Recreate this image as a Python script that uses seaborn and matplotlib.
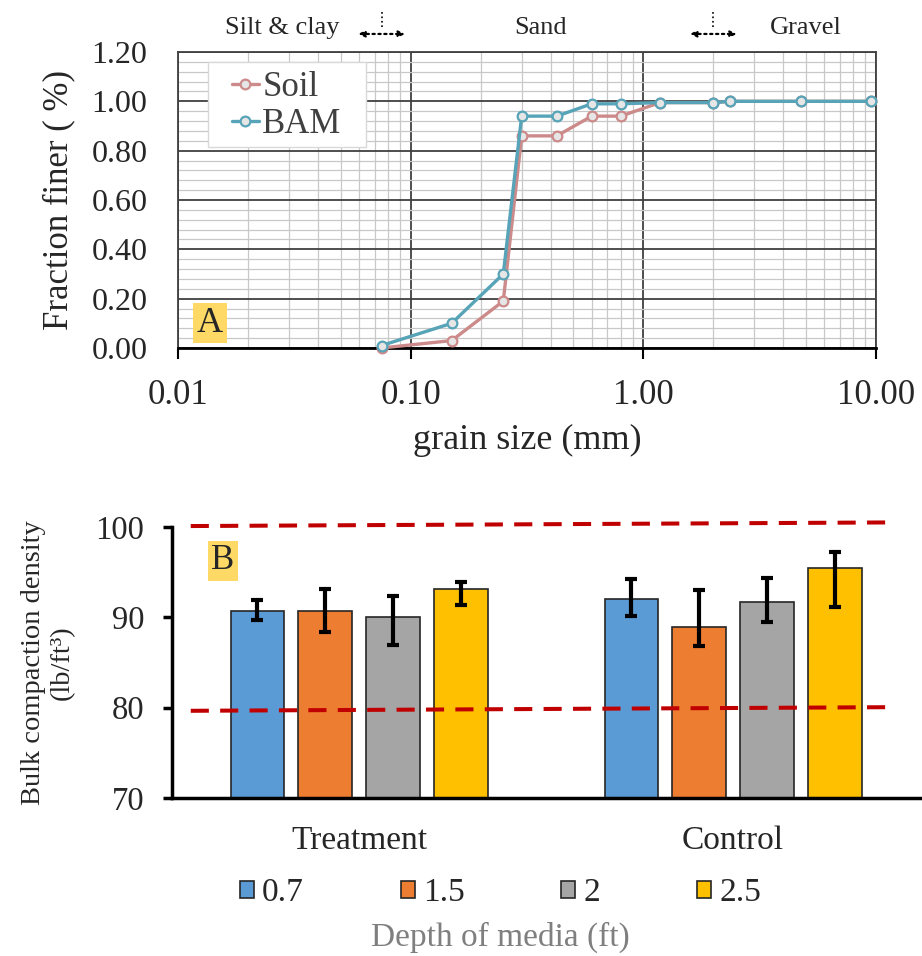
import matplotlib
matplotlib.use("Agg")
import matplotlib.pyplot as plt
import matplotlib.ticker as mticker
from matplotlib.patches import Rectangle
import pandas as pd
import seaborn as sns

# panel A - grain size distribution
grain_size = [0.075, 0.15, 0.25, 0.30, 0.425, 0.60, 0.80, 1.18, 2.0, 2.36, 4.75, 9.5]
soil_finer = [0.00, 0.03, 0.19, 0.86, 0.86, 0.94, 0.94, 0.995, 0.995, 1.0, 1.0, 1.0]
bam_finer = [0.01, 0.10, 0.30, 0.94, 0.94, 0.99, 0.99, 0.995, 0.995, 1.0, 1.0, 1.0]
size_classes = ["Silt & clay", "Sand", "Gravel"]
class_label_x = [0.028, 0.36, 5.0]
class_bounds = [0.075, 2.0]

# panel B - bulk compaction density
groups = ["Treatment", "Control"]
depths = ["0.7", "1.5", "2", "2.5"]
density_treatment = [90.7, 90.7, 90.05, 93.1]
density_control = [92.05, 88.95, 91.7, 95.5]
err_low_treatment = [89.7, 88.4, 86.9, 91.4]
err_high_treatment = [91.9, 93.1, 92.4, 93.9]
err_low_control = [90.1, 86.8, 89.5, 91.1]
err_high_control = [94.2, 93.0, 94.3, 97.2]
limit_upper = [100.1, 100.5]
limit_lower = [79.65, 80.05]
limit_x = [-0.45, 1.42]

soil_color = "#CC8A8A"
bam_color = "#57A3B7"
bar_colors = ["#5B9BD5", "#ED7D31", "#A5A5A5", "#FFC000"]

sns.set_style("white")
plt.rcParams["font.family"] = ["Liberation Serif", "DejaVu Serif"]

fig = plt.figure(figsize=(9.22, 9.56), dpi=100)
ax1 = fig.add_axes([0.1931, 0.6360, 0.7570, 0.3096])
ax2 = fig.add_axes([0.1866, 0.1653, 0.8113, 0.2835])

# ---- panel A ----
for vals, col, lab in [(soil_finer, soil_color, "Soil"), (bam_finer, bam_color, "BAM")]:
    sns.lineplot(x=grain_size, y=vals, ax=ax1, color=col, label=lab, sort=False,
                 linewidth=2.4, marker="o", markersize=7, markerfacecolor="#E6E6E6",
                 markeredgecolor=col, markeredgewidth=1.6, clip_on=False, zorder=3)

ax1.set_xscale("log")
ax1.set_xlim(0.01, 10)
ax1.set_ylim(0, 1.2)
ax1.yaxis.set_major_locator(mticker.MultipleLocator(0.2))
ax1.yaxis.set_minor_locator(mticker.MultipleLocator(0.04))
ax1.xaxis.set_major_locator(mticker.LogLocator(base=10))
ax1.xaxis.set_minor_locator(mticker.LogLocator(base=10, subs=range(2, 10)))
ax1.xaxis.set_major_formatter(mticker.FuncFormatter(lambda v, p: f"{v:.2f}"))
ax1.xaxis.set_minor_formatter(mticker.NullFormatter())
ax1.yaxis.set_major_formatter(mticker.FuncFormatter(lambda v, p: f"{v:.2f}"))
ax1.grid(which="major", color="#404040", linewidth=1.3)
ax1.grid(which="minor", color="#C8C8C8", linewidth=0.9)
ax1.set_axisbelow(True)
for s in ["top", "left", "right"]:
    ax1.spines[s].set_color("#404040")
    ax1.spines[s].set_linewidth(1.3)
ax1.spines["bottom"].set_color("black")
ax1.spines["bottom"].set_linewidth(2)
ax1.tick_params(axis="x", which="major", length=8, width=1.5, color="black",
                direction="out", labelsize=25, pad=14, bottom=True)
ax1.tick_params(axis="x", which="minor", length=0)
ax1.tick_params(axis="y", which="both", length=0, labelsize=23, pad=22)
ax1.set_xlabel("grain size (mm)", fontsize=26, labelpad=9)
ax1.set_ylabel("Fraction finer ( %)", fontsize=25, labelpad=12)

# legend frame drawn as a plain box, entries placed inside it
ax1.add_patch(Rectangle((0.043, 0.679), 0.226, 0.287, transform=ax1.transAxes,
                        facecolor="white", edgecolor="#D9D9D9", linewidth=1, zorder=4))
ax1.legend(loc="upper left", bbox_to_anchor=(0.077, 0.935), borderaxespad=0,
           fontsize=25, handlelength=0.78, handletextpad=0.1, labelspacing=0.1,
           borderpad=0, frameon=False, labelcolor="#404040")

ax1.text(0.046, 0.084, "A", transform=ax1.transAxes, fontsize=26, ha="center", va="center",
         bbox=dict(facecolor="#FFD966", edgecolor="none", pad=2.5))

xt = ax1.get_xaxis_transform()
for name, xpos in zip(size_classes, class_label_x):
    ax1.text(xpos, 1.081, name, transform=xt, fontsize=19, ha="center", va="center")
for b in class_bounds:
    ax1.annotate("", xy=(b * 1.26, 1.061), xytext=(b / 1.26, 1.061), xycoords=xt,
                 textcoords=xt, annotation_clip=False,
                 arrowprops=dict(arrowstyle="<|-|>", linestyle=":", color="black",
                                 lw=1.6, mutation_scale=9, shrinkA=0, shrinkB=0))
    ax1.plot([b, b], [1.084, 1.135], transform=xt, ls=":", color="black", lw=1.2,
             clip_on=False)

# ---- panel B ----
df = pd.DataFrame({
    "group": groups * len(depths),
    "depth": [d for d in depths for _ in groups],
    "density": [v for i in range(len(depths)) for v in (density_treatment[i], density_control[i])],
})
sns.barplot(data=df, x="group", y="density", hue="depth", hue_order=depths, order=groups,
            palette=bar_colors, saturation=1, width=0.726, gap=0.213, edgecolor="#262626",
            linewidth=1.2, errorbar=None, ax=ax2)

bar_containers = list(ax2.containers)
for i, cont in enumerate(bar_containers):
    lows = [err_low_treatment[i], err_low_control[i]]
    highs = [err_high_treatment[i], err_high_control[i]]
    for bar, lo, hi in zip(cont, lows, highs):
        xc = bar.get_x() + bar.get_width() / 2
        h = bar.get_height()
        ax2.errorbar(xc, h, yerr=[[h - lo], [hi - h]], color="black", elinewidth=3,
                     capsize=4, capthick=3, zorder=4)

ax2.plot(limit_x, limit_upper, ls=(0, (4.5, 2.8)), color="#C00000", lw=2.9, clip_on=False, zorder=5)
ax2.plot(limit_x, limit_lower, ls=(0, (4.5, 2.8)), color="#C00000", lw=2.9, clip_on=False, zorder=5)

ax2.set_ylim(70, 100)
ax2.set_xlim(-0.5, 1.5)
ax2.yaxis.set_major_locator(mticker.MultipleLocator(10))
sns.despine(ax=ax2)
for s in ["left", "bottom"]:
    ax2.spines[s].set_color("black")
    ax2.spines[s].set_linewidth(2.5)
ax2.tick_params(axis="y", length=6.5, width=2.5, color="black", direction="out",
                labelsize=23.5, pad=13.5, left=True)
ax2.tick_params(axis="x", length=0, labelsize=24, pad=20)
ax2.set_xlabel("")
ax2.set_ylabel("Bulk compaction density\n(lb/ft³)", fontsize=20.5, labelpad=15,
               linespacing=1.2)

ax2.text(0.068, 0.875, "B", transform=ax2.transAxes, fontsize=25, ha="center", va="center",
         bbox=dict(facecolor="#FFD966", edgecolor="none", pad=2.5))

handles, labels = ax2.get_legend_handles_labels()
ax2.legend(handles, labels, ncol=4, loc="center", bbox_to_anchor=(0.543, 0.066),
           bbox_transform=fig.transFigure, frameon=False, fontsize=24,
           handlelength=0.42, handleheight=0.42, handletextpad=0.25, columnspacing=2.9)
fig.text(0.543, 0.019, "Depth of media (ft)", fontsize=24, color="#7F7F7F",
         ha="center", va="center")

fig.savefig("out.png", dpi=100)
